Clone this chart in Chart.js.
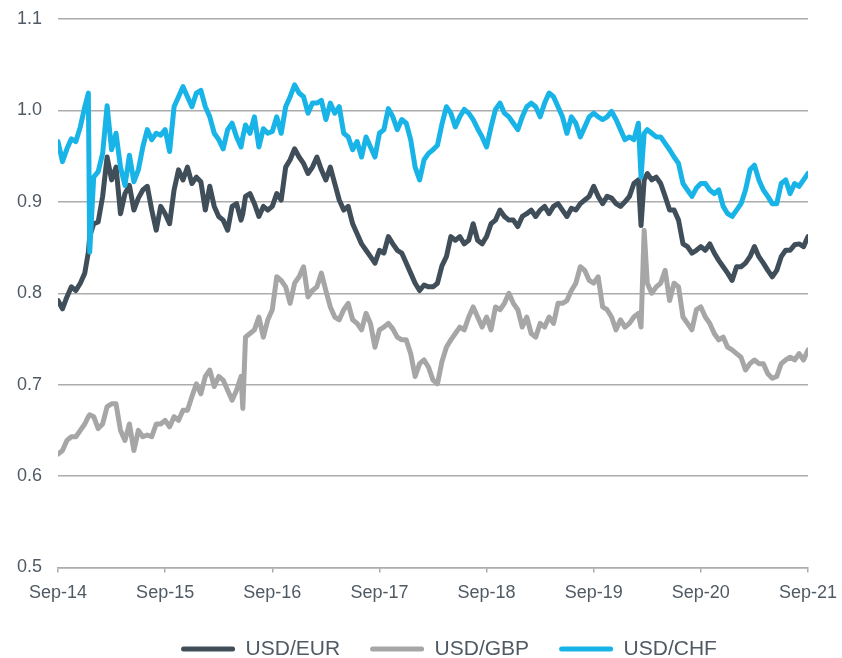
<!DOCTYPE html>
<html>
<head>
<meta charset="utf-8">
<title>USD exchange rates</title>
<script src="https://cdn.jsdelivr.net/npm/chart.js@4.4.1/dist/chart.umd.min.js"></script>
<style>
  html, body { margin: 0; padding: 0; background: #ffffff; }
  #wrap { width: 842px; height: 658px; position: relative; }
</style>
</head>
<body>
<div id="wrap"><canvas id="fx"></canvas></div>
<script>
// Tick labels, one per year (x = months since Sep-14)
const tickLabels = ['Sep-14', 'Sep-15', 'Sep-16', 'Sep-17', 'Sep-18', 'Sep-19', 'Sep-20', 'Sep-21'];

// Sample positions, months since Sep-14 (half-month steps, plus a few extra around sharp moves)
const months = [
  0, 0.5, 1, 1.5, 2, 2.5, 3, 3.4, 3.55,
  4, 4.5, 5, 5.5, 6, 6.5, 7, 7.5, 8, 8.5, 9, 9.5, 10, 10.5, 11, 11.5, 12, 12.5,
  13, 13.5, 14, 14.5, 15, 15.5, 16, 16.5, 17, 17.5, 18, 18.5, 19, 19.5, 20, 20.5, 20.7,
  21, 21.5, 22, 22.5, 23, 23.5, 24, 24.5, 25, 25.5, 26, 26.5, 27, 27.5, 28, 28.5,
  29, 29.5, 30, 30.5, 31, 31.5, 32, 32.5, 33, 33.5, 34, 34.5, 35, 35.5, 36, 36.5,
  37, 37.5, 38, 38.5, 39, 39.5, 40, 40.5, 41, 41.5, 42, 42.5, 43, 43.5, 44, 44.5,
  45, 45.5, 46, 46.5, 47, 47.5, 48, 48.5, 49, 49.5, 50, 50.5, 51, 51.5, 52, 52.5,
  53, 53.5, 54, 54.5, 55, 55.5, 56, 56.5, 57, 57.5, 58, 58.5, 59, 59.5, 60, 60.5,
  61, 61.5, 62, 62.5, 63, 63.5, 64, 64.5, 65, 65.3, 65.65,
  66, 66.5, 67, 67.5, 68, 68.5, 69, 69.5, 70, 70.5, 71, 71.5, 72, 72.5, 73, 73.5,
  74, 74.5, 75, 75.5, 76, 76.5, 77, 77.5, 78, 78.5, 79, 79.5, 80, 80.5, 81, 81.5,
  82, 82.5, 83, 83.5, 84
];

const usdEur = [
  0.792, 0.783, 0.796, 0.807, 0.803, 0.811, 0.822, 0.845, 0.862,
  0.876, 0.878, 0.906, 0.949, 0.924, 0.938, 0.887, 0.909, 0.918, 0.891,
  0.904, 0.913, 0.917, 0.891, 0.869, 0.895, 0.887, 0.876, 0.913, 0.935,
  0.924, 0.938, 0.920, 0.927, 0.922, 0.891, 0.917, 0.895, 0.884, 0.880,
  0.869, 0.895, 0.898, 0.880, 0.887,
  0.906, 0.909, 0.898, 0.884, 0.895, 0.891, 0.895, 0.909, 0.902, 0.938,
  0.946, 0.958, 0.949, 0.942, 0.931, 0.938, 0.949, 0.935, 0.924, 0.938,
  0.920, 0.902, 0.891, 0.895, 0.876, 0.865, 0.854, 0.847, 0.840, 0.833,
  0.847, 0.844, 0.862, 0.854, 0.847, 0.844, 0.833, 0.822, 0.811, 0.803,
  0.809, 0.807, 0.807, 0.811, 0.830, 0.840, 0.862, 0.858, 0.862, 0.854,
  0.858, 0.876, 0.858, 0.854, 0.862, 0.876, 0.880, 0.891, 0.884, 0.880,
  0.880, 0.873, 0.884, 0.887, 0.891, 0.884, 0.891, 0.895, 0.887, 0.895,
  0.898, 0.891, 0.884, 0.893, 0.891, 0.898, 0.902, 0.906, 0.917, 0.906,
  0.898, 0.906, 0.904, 0.898, 0.895, 0.900, 0.906, 0.920, 0.924, 0.874, 0.924,
  0.931, 0.924, 0.927, 0.920, 0.906, 0.891, 0.891, 0.880, 0.854, 0.851,
  0.844, 0.847, 0.851, 0.847, 0.854, 0.844, 0.836, 0.829, 0.822, 0.814,
  0.829, 0.829, 0.833, 0.840, 0.851, 0.840, 0.833, 0.825, 0.818, 0.825,
  0.840, 0.847, 0.847, 0.853, 0.854, 0.851, 0.862
];

const usdGbp = [
  0.624, 0.628, 0.639, 0.643, 0.643, 0.650, 0.657, 0.665, 0.667,
  0.665, 0.652, 0.657, 0.676, 0.679, 0.679, 0.650, 0.639, 0.657, 0.628,
  0.650, 0.643, 0.645, 0.643, 0.657, 0.657, 0.661, 0.654, 0.665, 0.661,
  0.672, 0.672, 0.687, 0.701, 0.690, 0.709, 0.716, 0.698, 0.709, 0.705,
  0.694, 0.683, 0.694, 0.709, 0.674,
  0.752, 0.756, 0.760, 0.774, 0.752, 0.771, 0.782, 0.818, 0.814, 0.807,
  0.789, 0.811, 0.818, 0.829, 0.796, 0.803, 0.807, 0.822, 0.803, 0.785,
  0.774, 0.771, 0.782, 0.789, 0.771, 0.767, 0.760, 0.778, 0.767, 0.741,
  0.760, 0.763, 0.767, 0.761, 0.752, 0.749, 0.749, 0.734, 0.709, 0.723,
  0.727, 0.719, 0.705, 0.701, 0.725, 0.741, 0.749, 0.756, 0.763, 0.760,
  0.774, 0.785, 0.774, 0.763, 0.774, 0.760, 0.785, 0.782, 0.789, 0.800,
  0.789, 0.782, 0.763, 0.774, 0.756, 0.752, 0.767, 0.763, 0.774, 0.767,
  0.789, 0.789, 0.792, 0.803, 0.811, 0.829, 0.825, 0.814, 0.811, 0.818,
  0.785, 0.782, 0.774, 0.760, 0.771, 0.763, 0.767, 0.774, 0.778, 0.763, 0.869,
  0.811, 0.800, 0.807, 0.811, 0.825, 0.792, 0.811, 0.807, 0.774, 0.767,
  0.760, 0.782, 0.785, 0.774, 0.767, 0.756, 0.749, 0.752, 0.741, 0.738,
  0.734, 0.730, 0.716, 0.723, 0.727, 0.723, 0.723, 0.712, 0.707, 0.709,
  0.723, 0.727, 0.730, 0.727, 0.734, 0.727, 0.738
];

const usdChf = [
  0.966, 0.944, 0.958, 0.969, 0.966, 0.982, 1.004, 1.019, 0.845,
  0.927, 0.933, 0.953, 1.005, 0.957, 0.975, 0.938, 0.918, 0.951, 0.922,
  0.935, 0.960, 0.979, 0.968, 0.975, 0.973, 0.979, 0.955, 1.004, 1.015,
  1.026, 1.015, 1.004, 1.019, 1.022, 1.004, 0.993, 0.975, 0.968, 0.958,
  0.979, 0.986, 0.971, 0.960, 0.971,
  0.984, 0.975, 0.993, 0.960, 0.980, 0.975, 0.977, 0.993, 0.975, 1.004,
  1.015, 1.028, 1.019, 1.015, 0.997, 1.008, 1.008, 1.011, 0.990, 1.008,
  0.997, 1.004, 0.975, 0.971, 0.957, 0.966, 0.949, 0.971, 0.960, 0.949,
  0.975, 0.979, 1.002, 0.993, 0.979, 0.990, 0.986, 0.968, 0.938, 0.924,
  0.946, 0.953, 0.957, 0.962, 0.985, 1.004, 0.997, 0.982, 0.993, 1.001,
  0.997, 0.990, 0.980, 0.971, 0.960, 0.982, 1.001, 1.008, 0.997, 0.993,
  0.986, 0.979, 0.993, 1.004, 1.008, 1.004, 0.993, 1.008, 1.019, 1.015,
  1.004, 0.993, 0.975, 0.993, 0.986, 0.971, 0.982, 0.993, 0.997, 0.993,
  0.990, 0.993, 0.999, 0.990, 0.979, 0.968, 0.971, 0.968, 0.986, 0.927, 0.975,
  0.979, 0.975, 0.971, 0.971, 0.964, 0.957, 0.949, 0.942, 0.920, 0.913,
  0.906, 0.915, 0.920, 0.920, 0.913, 0.909, 0.913, 0.895, 0.887, 0.884,
  0.891, 0.898, 0.913, 0.935, 0.940, 0.924, 0.913, 0.906, 0.898, 0.898,
  0.920, 0.924, 0.909, 0.920, 0.917, 0.924, 0.931
];

// Styling
const fontFamily = "'Liberation Sans', Arial, sans-serif";
const textColor = '#505a64';
const gridColor = '#acacac';

function makeSeries(label, values, color, drawOrder) {
  return {
    label: label,
    data: months.map((m, i) => ({ x: m, y: values[i] })),
    borderColor: color,
    backgroundColor: color,
    borderWidth: 5,
    borderJoinStyle: 'round',
    borderCapStyle: 'round',
    pointRadius: 0,
    tension: 0,
    fill: false,
    order: drawOrder
  };
}

// the legend sits a little right of the canvas centre in the original
const legendShift = {
  id: 'legendShift',
  afterLayout(chart) {
    chart.legend.left += 28;
    chart.legend.right += 28;
  }
};

new Chart(document.getElementById('fx'), {
  type: 'line',
  data: {
    datasets: [
      makeSeries('USD/EUR', usdEur, '#404e5a', 2),
      makeSeries('USD/GBP', usdGbp, '#a6a6a6', 1),
      makeSeries('USD/CHF', usdChf, '#18b4e7', 0)
    ]
  },
  plugins: [legendShift],
  options: {
    responsive: true,
    maintainAspectRatio: false,
    animation: false,
    events: [],
    layout: {
      padding: { top: 19, right: 0, bottom: -11.5, left: 0 }
    },
    plugins: {
      tooltip: { enabled: false },
      legend: {
        position: 'bottom',
        labels: {
          boxWidth: 54,
          boxHeight: 5,
          padding: 30,
          color: textColor,
          useBorderRadius: true,
          borderRadius: 2.5,
          font: { family: fontFamily, size: 21 },
          sort: (a, b) => a.datasetIndex - b.datasetIndex,
          generateLabels: function(chart) {
            return Chart.defaults.plugins.legend.labels.generateLabels(chart)
              .map(item => ({ ...item, lineWidth: 0 }));
          }
        }
      }
    },
    scales: {
      x: {
        type: 'linear',
        min: 0,
        max: 84,
        afterFit: function(scale) {
          scale.height = 41;
          scale.paddingRight = 34;
        },
        ticks: {
          stepSize: 12,
          autoSkip: false,
          maxRotation: 0,
          padding: 10,
          color: textColor,
          font: { family: fontFamily, size: 18 },
          callback: function(value) {
            return tickLabels[Math.round(value / 12)];
          }
        },
        grid: {
          drawOnChartArea: false,
          drawTicks: true,
          tickLength: 5,
          color: gridColor,
          lineWidth: 1.5
        },
        border: { display: true, color: gridColor, width: 1.5 }
      },
      y: {
        min: 0.5,
        max: 1.1,
        afterFit: function(scale) {
          scale.width = 58;
          scale.paddingTop = 0;
          scale.paddingBottom = 0;
        },
        ticks: {
          stepSize: 0.1,
          padding: 16,
          color: textColor,
          font: { family: fontFamily, size: 18 },
          callback: function(value) {
            return value.toFixed(1);
          }
        },
        grid: {
          drawTicks: false,
          color: gridColor,
          lineWidth: 1.5
        },
        border: { display: false }
      }
    }
  }
});
</script>
</body>
</html>
